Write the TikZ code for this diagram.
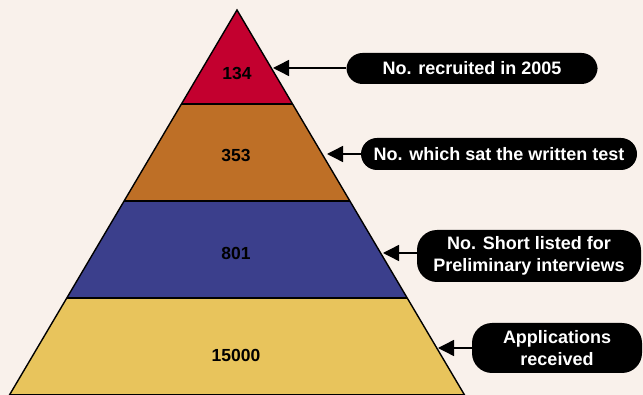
\documentclass[tikz,border=0pt]{standalone}
\usepackage{fontspec}
\setmainfont{Liberation Sans}
\usepackage{xcolor}
\usepackage{tikz}
\usetikzlibrary{arrows.meta}

\definecolor{bgcream}{HTML}{F9F1EB}
\definecolor{tierred}{HTML}{C3002F}
\definecolor{tierorange}{HTML}{BE6F26}
\definecolor{tierblue}{HTML}{3B3F8C}
\definecolor{tieryellow}{HTML}{E8C45C}

\tikzset{
  pill/.style={fill=black, text=white, font=\bfseries\fontsize{18}{22}\selectfont,
    rounded corners=16pt, align=center, inner sep=0pt},
  pointer/.style={-{Triangle[length=16pt,width=16pt]}, line width=1.4pt},
  count/.style={font=\bfseries\fontsize{17.5}{20}\selectfont}
}

\begin{document}
\begin{tikzpicture}[x=1pt,y=-1pt]
  \fill[bgcream] (0,0) rectangle (643,395);
  \useasboundingbox (0,0) rectangle (643,395);
  % tiers, top to bottom
  \foreach \a/\b/\c in {10/104/tierred,104/201/tierorange,201/298/tierblue,298/400/tieryellow} {
    \fill[\c] ({237-0.591*(\a-10)},\a) -- ({237+0.591*(\a-10)},\a)
      -- ({237+0.591*(\b-10)},\b) -- ({237-0.591*(\b-10)},\b) -- cycle;
  }
  \foreach \y in {104,201,298,395} {
    \draw[line width=1.4pt] ({237-0.591*(\y-10)},\y) -- ({237+0.591*(\y-10)},\y);
  }
  \draw[line width=1.4pt] ({237-0.591*390},400) -- (237,10) -- ({237+0.591*390},400);

  \node[count] (n134) at (237,73) {134};
  \node[count] (n353) at (236,155) {353};
  \node[count] (n801) at (236,253) {801};
  \node[count] (n15000) at (236,355) {15000};

  \node[pill, minimum width=251pt, minimum height=31pt] (recruited) at (472,68.5) {No. recruited in 2005};
  \node[pill, minimum width=276pt, minimum height=32pt] (written) at (499,154) {No. which sat the written test};
  \node[pill, rounded corners=20pt, minimum width=224pt, minimum height=52pt] (shortlist) at (529,256) {No. Short listed for\\Preliminary interviews};
  \node[pill, rounded corners=20pt, minimum width=170pt, minimum height=50pt] (applied) at (557,348) {Applications\\received};

  \coordinate (tip1) at (273,68);
  \coordinate (tip2) at (327,154);
  \coordinate (tip3) at (383,253);
  \coordinate (tip4) at (438,348);
  \draw[pointer] (recruited.west |- tip1) -- (tip1);
  \draw[pointer] (written.west |- tip2) -- (tip2);
  \draw[pointer] (shortlist.west |- tip3) -- (tip3);
  \draw[pointer] (applied.west |- tip4) -- (tip4);
\end{tikzpicture}
\end{document}
